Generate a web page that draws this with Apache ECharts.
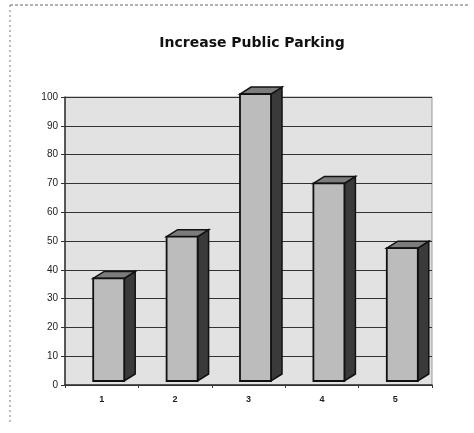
<!DOCTYPE html>
<html>
<head>
<meta charset="utf-8">
<style>
  html, body { margin: 0; padding: 0; background: #fff; }
  #chart { width: 474px; height: 433px; }
</style>
<script src="https://cdn.jsdelivr.net/npm/echarts@6/dist/echarts.min.js"></script>
</head>
<body>
<div id="chart"></div>
<script>
var categories = ["1", "2", "3", "4", "5"];
var values = [37, 51.5, 101, 70, 47.5];
var yTicks = [0, 10, 20, 30, 40, 50, 60, 70, 80, 90, 100];

var myChart = echarts.init(document.getElementById("chart"));

// pseudo 3D column: front face, right side, top
function renderBar(params, api) {
  var base = api.coord([api.value(0), 0]);
  var top = api.coord([api.value(0), api.value(1)]);
  var w = 31, dx = 11, dy = 7;
  var x0 = base[0] - 8.5;
  var yb = base[1] - 4;
  var yt = top[1];
  return {
    type: "group",
    children: [
      {
        type: "polygon",
        shape: { points: [[x0 + w, yt], [x0 + w + dx, yt - dy], [x0 + w + dx, yb - dy], [x0 + w, yb]] },
        style: { fill: "#3a3a3a", stroke: "#111", lineWidth: 1.5 }
      },
      {
        type: "polygon",
        shape: { points: [[x0, yt], [x0 + dx, yt - dy], [x0 + w + dx, yt - dy], [x0 + w, yt]] },
        style: { fill: "#7c7c7c", stroke: "#111", lineWidth: 1.5 }
      },
      {
        type: "rect",
        shape: { x: x0, y: yt, width: w, height: yb - yt },
        style: { fill: "#bcbcbc", stroke: "#111", lineWidth: 1.8 }
      }
    ]
  };
}

var option = {
  backgroundColor: "#fff",
  animation: false,
  title: {
    text: "Increase Public Parking",
    left: 247,
    top: 31,
    textAlign: "center",
    textStyle: {
      fontFamily: "DejaVu Sans",
      fontWeight: "bold",
      fontSize: 14,
      color: "#111"
    }
  },
  graphic: [
    { type: "line", shape: { x1: 10, y1: 5, x2: 470, y2: 5 }, style: { stroke: "#666", lineWidth: 1, lineDash: [3, 2] } },
    { type: "line", shape: { x1: 10, y1: 5, x2: 10, y2: 425 }, style: { stroke: "#777", lineWidth: 1, lineDash: [2, 3] } }
  ],
  grid: {
    left: 65,
    right: 42,
    top: 97,
    bottom: 48,
    show: true,
    backgroundColor: "#e2e2e2",
    borderColor: "#999",
    borderWidth: 1
  },
  xAxis: {
    type: "category",
    data: categories,
    boundaryGap: true,
    axisLine: { lineStyle: { color: "#333", width: 1.5 } },
    axisTick: { show: true, length: 3, lineStyle: { color: "#333" } },
    axisLabel: {
      margin: 10,
      fontFamily: "Liberation Sans",
      fontWeight: "bold",
      fontSize: 9,
      color: "#222"
    }
  },
  yAxis: {
    type: "value",
    min: yTicks[0],
    max: yTicks[yTicks.length - 1],
    interval: 10,
    axisLine: { show: true, lineStyle: { color: "#333", width: 1.5 } },
    axisTick: { show: true, length: 4, lineStyle: { color: "#333" } },
    axisLabel: {
      margin: 7,
      fontFamily: "Liberation Sans",
      fontSize: 10,
      color: "#222"
    },
    splitLine: { lineStyle: { color: "#333", width: 1.2 } }
  },
  series: [
    {
      type: "custom",
      renderItem: renderBar,
      clip: false,
      encode: { x: 0, y: 1 },
      data: values.map(function (v, i) { return [i, v]; })
    }
  ]
};

myChart.setOption(option);
</script>
</body>
</html>
